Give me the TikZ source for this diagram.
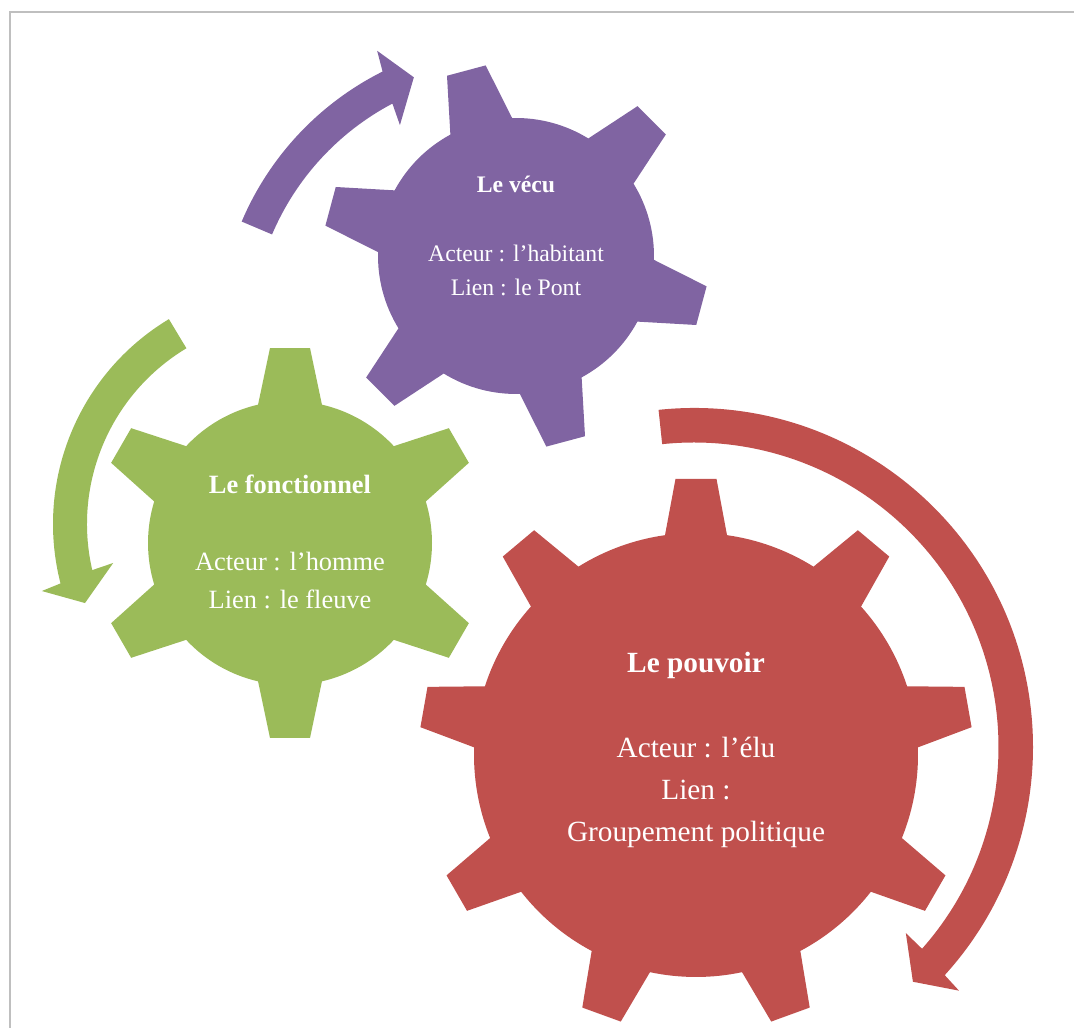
\documentclass[tikz,border=0pt]{standalone}
\usepackage{fontspec}
\setmainfont{Liberation Serif}
\definecolor{vecu}{HTML}{8064A2}
\definecolor{fonct}{HTML}{9BBB59}
\definecolor{pouv}{HTML}{C0504D}
\definecolor{cadre}{HTML}{BFBFBF}

\begin{document}
\begin{tikzpicture}[x=1pt,y=1pt]

\tikzstyle{lbl} = [anchor=base, text=white, inner sep=0pt, outer sep=0pt];
\tikzstyle{vtxt} = [lbl, font=\fontsize{23.7}{24}\selectfont];
\tikzstyle{ftxt} = [lbl, font=\fontsize{26.4}{27}\selectfont];
\tikzstyle{ptxt} = [lbl, font=\fontsize{29.3}{30}\selectfont];

\useasboundingbox (0,0) rectangle (1074,1028);

% cadre
\draw[cadre, line width=2pt] (9.5,0) -- (9.5,1016.3) -- (1074,1016.3);

% roue violette : le vecu
\fill[vecu, shift={(516,772)}] (105+13.4:138)
  \foreach \a in {105,165,...,405} {
    arc[start angle=\a+13.4, end angle=\a+60-13.4, radius=138]
    -- (\a+60-5.95:193) -- (\a+60+5.95:193) -- (\a+60+13.4:138)
  } -- cycle;

% roue verte : le fonctionnel
\fill[fonct, shift={(290,485)}] (90+13:142)
  \foreach \a in {90,150,...,390} {
    arc[start angle=\a+13, end angle=\a+60-13, radius=142]
    -- (\a+60-5.86:196) -- (\a+60+5.86:196) -- (\a+60+13:142)
  } -- cycle;

% roue rouge : le pouvoir
\fill[pouv, shift={(696,273)}] (10+8.03:222)
  \foreach \a in {10,50,...,330} {
    arc[start angle=\a+8.03, end angle=\a+40-8.03, radius=222]
    -- (\a+40-4.24:277) -- (\a+40+4.24:277) -- (\a+40+8.03:222)
  } -- cycle;

% fleches circulaires
\fill[vecu, shift={(516,690)}] (157:298) arc[start angle=157, end angle=116.6, radius=298]
  -- (115.8:319) -- (111.4:280) -- (118.6:242.5) -- (117.8:265)
  arc[start angle=117.8, end angle=157, radius=265] -- cycle;

\fill[fonct, shift={(292,504)}] (121:239) arc[start angle=121, end angle=194.4, radius=239]
  -- (195:259) -- (200.9:221.6) -- (192.3:183) -- (193:205)
  arc[start angle=193, end angle=121, radius=205] -- cycle;

\fill[pouv, shift={(694,281)}] (96:339) arc[start angle=96, end angle=-42.3, radius=339]
  -- (-42.6:360) -- (-47:321) -- (-41.3:282) -- (-41.5:304.5)
  arc[start angle=-41.5, end angle=96, radius=304.5] -- cycle;

% textes
\node[vtxt] (vecu-titre) at (516,835.3) {\bfseries Le vécu};
\node[vtxt] (vecu-acteur) at (516,766.3) {Acteur : l’habitant};
\node[vtxt] (vecu-lien) at (516,732) {Lien : le Pont};

\node[ftxt] (fonct-titre) at (290,534) {\bfseries Le fonctionnel};
\node[ftxt] (fonct-acteur) at (290,457) {Acteur : l’homme};
\node[ftxt] (fonct-lien) at (290,419) {Lien : le fleuve};

\node[ptxt] (pouv-titre) at (696,355) {\bfseries Le pouvoir};
\node[ptxt] (pouv-acteur) at (696,270) {Acteur : l’élu};
\node[ptxt] (pouv-lien) at (696,228) {Lien :};
\node[ptxt] (pouv-groupe) at (696,186) {Groupement politique};

\end{tikzpicture}
\end{document}
